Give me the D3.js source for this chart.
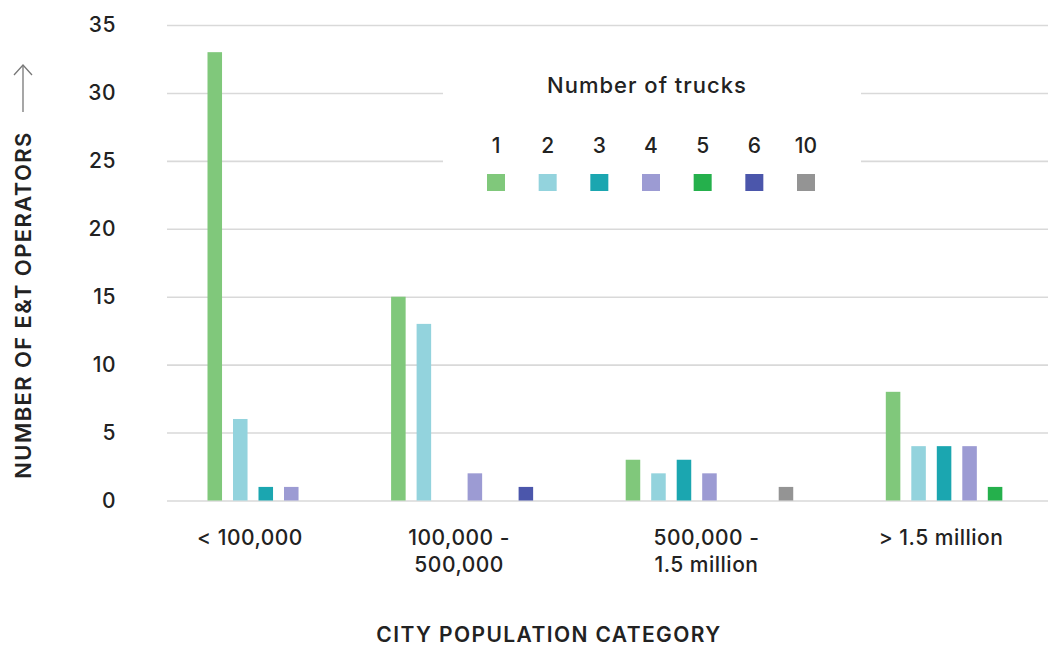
<!DOCTYPE html>
<html>
<head>
<meta charset="utf-8">
<script src="https://cdn.jsdelivr.net/npm/d3@7"></script>
<style>
  html, body { margin: 0; padding: 0; background: #fff; }
  svg { display: block; font-family: Inter, "Noto Sans", sans-serif; }
</style>
</head>
<body>
<svg id="chart" width="1050" height="648"></svg>
<script>
// City population categories, one tick label line per array entry
const categoryLines = [["< 100,000"], ["100,000 -", "500,000"], ["500,000 -", "1.5 million"], ["> 1.5 million"]];

// Fleet sizes (number of trucks) shown as the series
const truckCounts = ["1", "2", "3", "4", "5", "6", "10"];

// Number of operators per category, one array per fleet size
const trucks1  = [33, 15, 3, 8];
const trucks2  = [6, 13, 2, 4];
const trucks3  = [1, 0, 3, 4];
const trucks4  = [1, 2, 2, 4];
const trucks5  = [0, 0, 0, 1];
const trucks6  = [0, 1, 0, 0];
const trucks10 = [0, 0, 1, 0];

const yTicks = [0, 5, 10, 15, 20, 25, 30, 35];

const seriesColors = ["#80c87b", "#93d3dd", "#1ba6b0", "#9c9bd3", "#25b04c", "#4b56ab", "#949494"];

const seriesValues = [trucks1, trucks2, trucks3, trucks4, trucks5, trucks6, trucks10];

const svg = d3.select("#chart");
const plot = { left: 167, right: 1048, top: 25, bottom: 500.5 };

const y = d3.scaleLinear().domain([0, 35]).range([plot.bottom, plot.top]);

// Each category keeps slots up to its last non-empty series; groups are separated by a fixed gap
const slotGap = 3.2;    // gap between groups, in slot units
const barFrac = 0.57;   // bar width as a fraction of a slot
const groups = categoryLines.map((lines, ci) => {
  const vals = seriesValues.map(s => s[ci]);
  let last = 0;
  vals.forEach((v, i) => { if (v > 0) last = i; });
  return { lines, vals, slots: last + 1 };
});
let cursor = 0;
groups.forEach(g => { g.start = cursor; cursor += g.slots + slotGap; });
const unitsEnd = groups[groups.length - 1].start + groups[groups.length - 1].slots;
const x = d3.scaleLinear().domain([0, unitsEnd]).range([207.5, 207.5 + 25.5 * unitsEnd]);

// Gridlines
const grid = svg.append("g").attr("transform", `translate(${plot.left},0)`)
  .call(d3.axisLeft(y).tickValues(yTicks).tickSize(-(plot.right - plot.left)).tickFormat(""));
grid.select(".domain").remove();
grid.selectAll("line").attr("stroke", "#d9d9d9").attr("stroke-width", 1.6);

// Y tick labels
const yAxis = svg.append("g").attr("transform", `translate(${plot.left},0)`)
  .call(d3.axisLeft(y).tickValues(yTicks).tickSize(0).tickPadding(51));
yAxis.select(".domain").remove();
yAxis.selectAll("text").attr("font-size", 21).attr("font-weight", 500).attr("fill", "#222")
  .attr("font-family", "Inter, sans-serif").attr("letter-spacing", 0.5);

// Legend panel sits over the gridlines
const legend = svg.append("g");
legend.append("rect").attr("x", 443).attr("y", 45).attr("width", 418).attr("height", 178).attr("fill", "#fff");
legend.append("text").attr("x", 647).attr("y", 93).attr("text-anchor", "middle")
  .attr("font-size", 22).attr("font-weight", 500).attr("letter-spacing", 1).attr("fill", "#222")
  .text("Number of trucks");
const lx = d3.scalePoint().domain(truckCounts).range([496, 806]);
const items = legend.selectAll("g.item").data(truckCounts).join("g").attr("class", "item")
  .attr("transform", d => `translate(${lx(d)},0)`);
items.append("text").attr("y", 153).attr("text-anchor", "middle").attr("font-size", 21)
  .attr("font-weight", 500).attr("fill", "#222").text(d => d);
items.append("rect").attr("x", -9).attr("y", 174).attr("width", 18).attr("height", 17)
  .attr("fill", (d, i) => seriesColors[i]);

// Bars
const barW = x(barFrac) - x(0);
const bars = groups.flatMap(g => g.vals.map((v, i) => ({ v, i, u: g.start + i })).filter(d => d.v > 0));
svg.append("g").selectAll("rect").data(bars).join("rect")
  .attr("x", d => x(d.u)).attr("width", barW)
  .attr("y", d => y(d.v)).attr("height", d => y(0) - y(d.v))
  .attr("fill", d => seriesColors[d.i]);

// Category labels centred under the drawn bars of each group
const catG = svg.append("g").attr("font-size", 21).attr("font-weight", 500)
  .attr("letter-spacing", 0.5).attr("fill", "#222");
groups.forEach(g => {
  const used = g.vals.map((v, i) => v > 0 ? i : null).filter(i => i !== null);
  const cx = (x(g.start + d3.min(used)) + x(g.start + d3.max(used) + barFrac)) / 2 - 3;
  const t = catG.append("text").attr("text-anchor", "middle").attr("x", cx).attr("y", 545);
  g.lines.forEach((line, li) => {
    t.append("tspan").attr("x", cx).attr("dy", li === 0 ? 0 : 27).text(line);
  });
});

// Axis titles
svg.append("text").attr("x", 549).attr("y", 642).attr("text-anchor", "middle")
  .attr("font-size", 21).attr("font-weight", 600).attr("letter-spacing", 1.4).attr("fill", "#222")
  .text("CITY POPULATION CATEGORY");
svg.append("text").attr("transform", "translate(31,305) rotate(-90)").attr("text-anchor", "middle")
  .attr("font-size", 22).attr("font-weight", 600).attr("letter-spacing", 1.4).attr("fill", "#222")
  .text("NUMBER OF E&T OPERATORS");

// Arrow pointing up beside the y title
const arrow = svg.append("g").attr("stroke", "#777").attr("stroke-width", 1.3).attr("fill", "none");
arrow.append("line").attr("x1", 23).attr("x2", 23).attr("y1", 112).attr("y2", 65);
arrow.append("path").attr("d", "M14,75 L23,65 L32,75");
</script>
</body>
</html>
